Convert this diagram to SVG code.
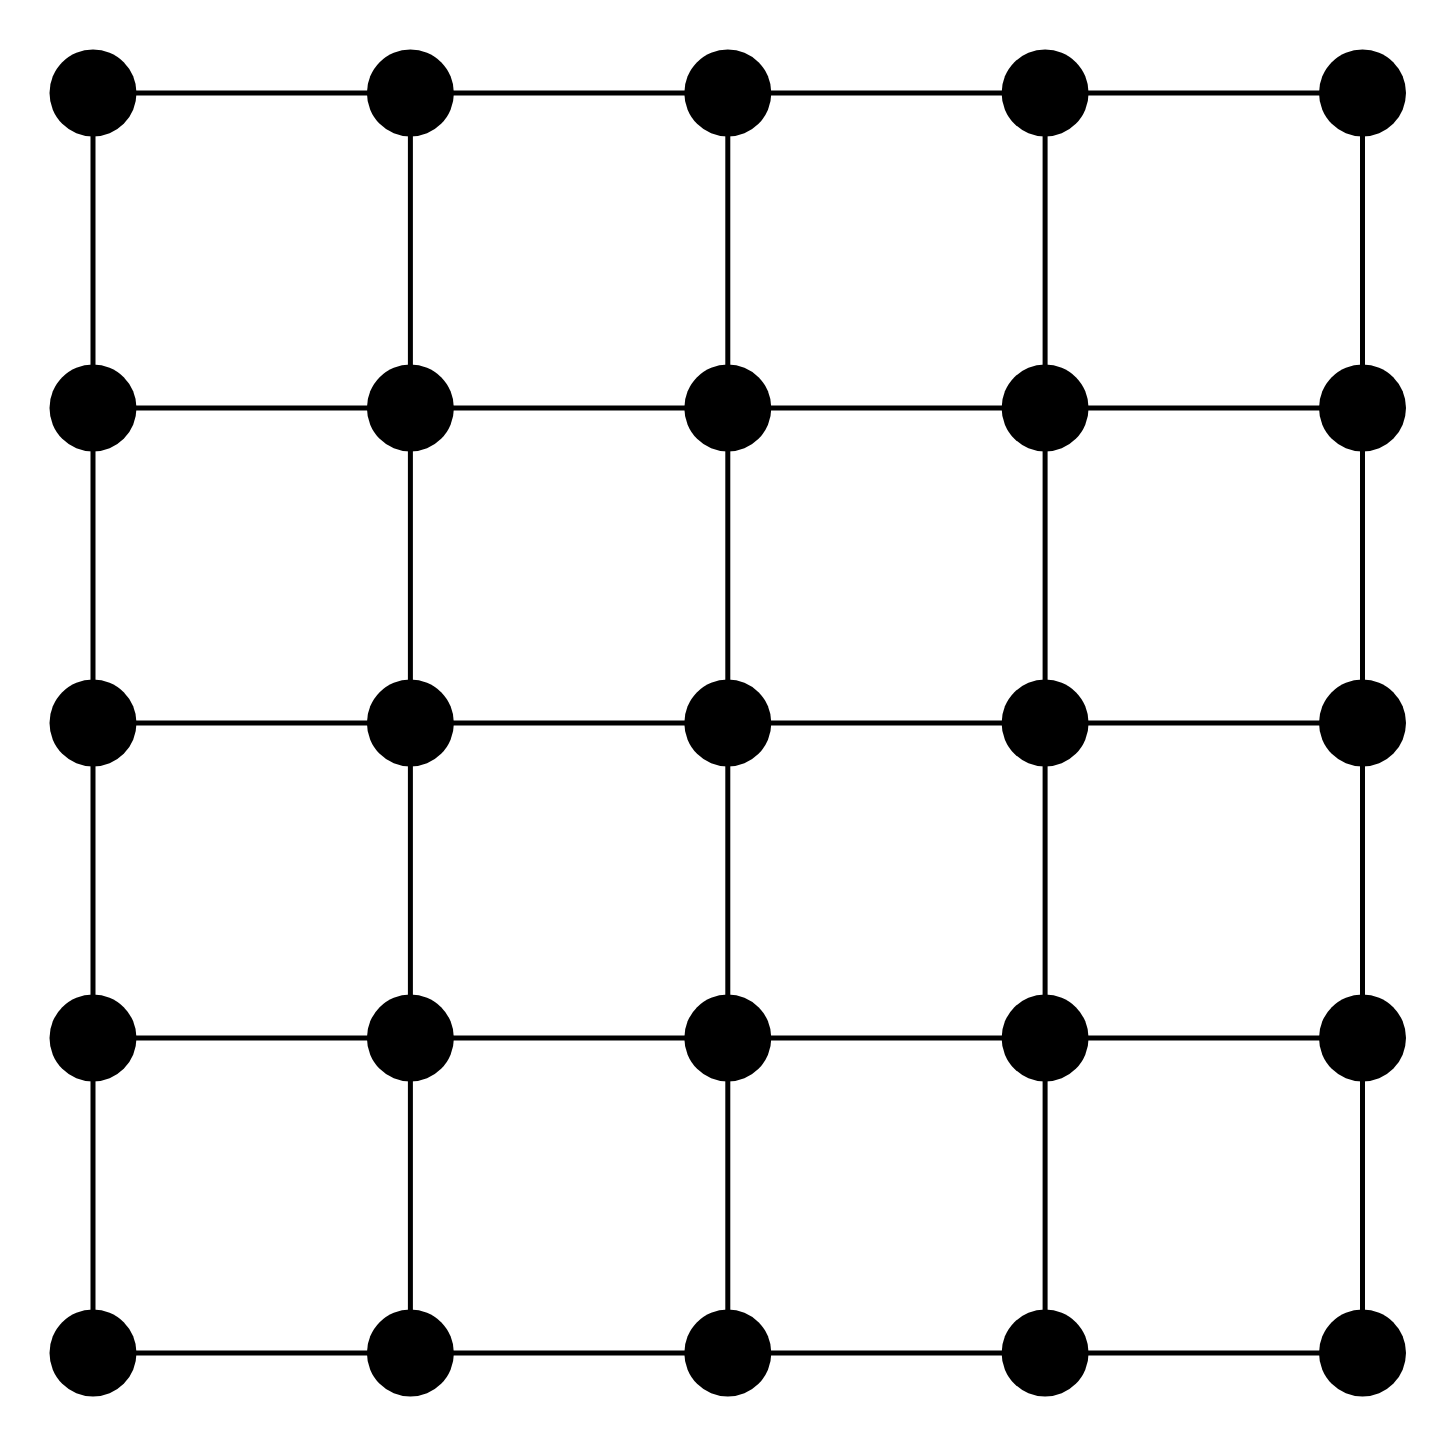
<svg xmlns="http://www.w3.org/2000/svg" width="1455" height="1446" viewBox="0 0 1455 1446">
<style>
.e{stroke:#000;stroke-width:5;fill:none}
.n{fill:#000}
</style>
<rect width="1455" height="1446" fill="#fff"/>
<g id="edges">
<line class="e" x1="93" y1="93" x2="1362.5" y2="93"/>
<line class="e" x1="93" y1="408" x2="1362.5" y2="408"/>
<line class="e" x1="93" y1="723" x2="1362.5" y2="723"/>
<line class="e" x1="93" y1="1038" x2="1362.5" y2="1038"/>
<line class="e" x1="93" y1="1353" x2="1362.5" y2="1353"/>
<line class="e" x1="93" y1="93" x2="93" y2="1353"/>
<line class="e" x1="410.4" y1="93" x2="410.4" y2="1353"/>
<line class="e" x1="727.8" y1="93" x2="727.8" y2="1353"/>
<line class="e" x1="1045.1" y1="93" x2="1045.1" y2="1353"/>
<line class="e" x1="1362.5" y1="93" x2="1362.5" y2="1353"/>
</g>
<g id="n0_0"><circle class="n" cx="93" cy="93" r="43.5"/></g>
<g id="n0_1"><circle class="n" cx="410.4" cy="93" r="43.5"/></g>
<g id="n0_2"><circle class="n" cx="727.8" cy="93" r="43.5"/></g>
<g id="n0_3"><circle class="n" cx="1045.1" cy="93" r="43.5"/></g>
<g id="n0_4"><circle class="n" cx="1362.5" cy="93" r="43.5"/></g>
<g id="n1_0"><circle class="n" cx="93" cy="408" r="43.5"/></g>
<g id="n1_1"><circle class="n" cx="410.4" cy="408" r="43.5"/></g>
<g id="n1_2"><circle class="n" cx="727.8" cy="408" r="43.5"/></g>
<g id="n1_3"><circle class="n" cx="1045.1" cy="408" r="43.5"/></g>
<g id="n1_4"><circle class="n" cx="1362.5" cy="408" r="43.5"/></g>
<g id="n2_0"><circle class="n" cx="93" cy="723" r="43.5"/></g>
<g id="n2_1"><circle class="n" cx="410.4" cy="723" r="43.5"/></g>
<g id="n2_2"><circle class="n" cx="727.8" cy="723" r="43.5"/></g>
<g id="n2_3"><circle class="n" cx="1045.1" cy="723" r="43.5"/></g>
<g id="n2_4"><circle class="n" cx="1362.5" cy="723" r="43.5"/></g>
<g id="n3_0"><circle class="n" cx="93" cy="1038" r="43.5"/></g>
<g id="n3_1"><circle class="n" cx="410.4" cy="1038" r="43.5"/></g>
<g id="n3_2"><circle class="n" cx="727.8" cy="1038" r="43.5"/></g>
<g id="n3_3"><circle class="n" cx="1045.1" cy="1038" r="43.5"/></g>
<g id="n3_4"><circle class="n" cx="1362.5" cy="1038" r="43.5"/></g>
<g id="n4_0"><circle class="n" cx="93" cy="1353" r="43.5"/></g>
<g id="n4_1"><circle class="n" cx="410.4" cy="1353" r="43.5"/></g>
<g id="n4_2"><circle class="n" cx="727.8" cy="1353" r="43.5"/></g>
<g id="n4_3"><circle class="n" cx="1045.1" cy="1353" r="43.5"/></g>
<g id="n4_4"><circle class="n" cx="1362.5" cy="1353" r="43.5"/></g>
</svg>
